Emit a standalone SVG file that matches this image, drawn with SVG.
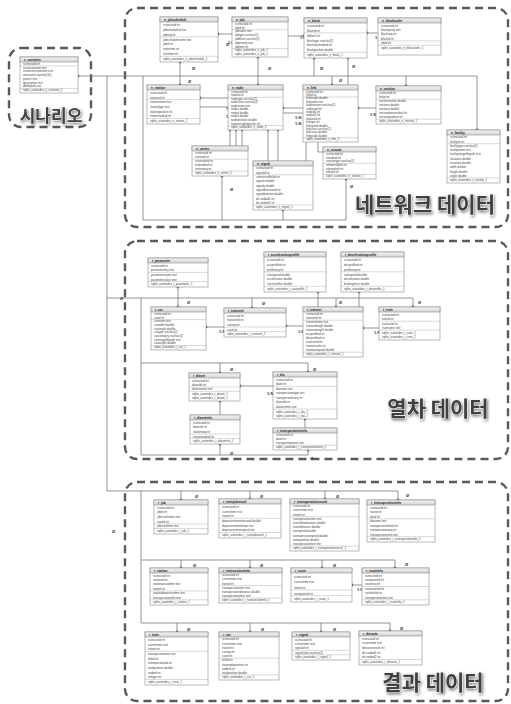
<svg xmlns="http://www.w3.org/2000/svg" width="511" height="704" viewBox="0 0 511 704">
<defs>
<linearGradient id="hg" x1="0" y1="0" x2="0" y2="1"><stop offset="0" stop-color="#f4f4f4"/><stop offset="1" stop-color="#d4d4d4"/></linearGradient>
<filter id="sh" x="-10%" y="-30%" width="120%" height="160%"><feDropShadow dx="1" dy="1.5" stdDeviation="1.6" flood-color="#000" flood-opacity="0.55"/></filter>
</defs>
<style>
.box{fill:none;stroke:#5a5a5a;stroke-width:2.4;stroke-dasharray:8 5}
.t{fill:#fff;stroke:#8a8a8a;stroke-width:0.6}
.h{fill:url(#hg);stroke:#8a8a8a;stroke-width:0.6}
.s{stroke:#a0a0a0;stroke-width:0.4}
.n{font-family:"Liberation Sans",Arial,sans-serif;font-size:3.2px;font-weight:bold;fill:#222}
.r{font-family:"Liberation Sans",Arial,sans-serif;font-size:2.9px;fill:#444}
.c path{fill:none;stroke:#7a7a7a;stroke-width:0.8}
.c circle{fill:#6a6a6a}
.m{font-family:"Liberation Sans",Arial,sans-serif;font-size:4px;font-weight:bold;fill:#333}
.big{font-family:"Noto Sans CJK KR","Noto Sans CJK SC",sans-serif;font-weight:bold;fill:#404040;stroke:#fff;stroke-width:0.6;paint-order:stroke}
</style>
<rect width="511" height="704" fill="#fff"/>
<g id="areas">
<rect class="box" x="9" y="48" width="82" height="79" rx="12"/>
<rect class="box" x="125" y="8" width="383" height="219" rx="12"/>
<rect class="box" x="125" y="241" width="383" height="218" rx="12"/>
<rect class="box" x="125" y="482" width="383" height="219" rx="12"/>
<text class="big" x="51" y="122" font-size="17" text-anchor="middle" filter="url(#sh)">시나리오</text>
<text class="big" x="425" y="212" font-size="21" text-anchor="middle" filter="url(#sh)">네트워크 데이터</text>
<text class="big" x="438" y="416" font-size="21" text-anchor="middle" filter="url(#sh)">열차 데이터</text>
<text class="big" x="433" y="690" font-size="21" text-anchor="middle" filter="url(#sh)">결과 데이터</text>
</g>
<g class="c" id="connectors">
<path d="M78,76 H477 V130"/>
<path d="M107,76 V491 H398 V500"/>
<path d="M107,298 H413 V307"/>
<path d="M143,76 V220 H346 V179"/>
<path d="M180,62 V85"/>
<path d="M258,57 V85"/>
<path d="M314,58 V76"/>
<path d="M332,76 V85"/>
<path d="M348,58 V85"/>
<path d="M406,76 V86"/>
<path d="M218,34 H232"/>
<path d="M288,36 H304"/>
<path d="M367,33 H378"/>
<path d="M200,98 H228 M200,107 H228"/>
<path d="M283,108 H303 M283,113 H303"/>
<path d="M358,108 H376"/>
<path d="M230,130 V146 M236,130 V146 M242,130 V146"/>
<path d="M268,130 V161 M278,130 V161"/>
<path d="M318,142 V152 H323 M306,142 V170 H313"/>
<path d="M222,176 V220 M283,210 V220"/>
<path d="M141,298 V455 H308 V450"/>
<path d="M220,455 V444"/>
<path d="M141,363 H308 V372 M220,363 V373"/>
<path d="M178,287 V307"/>
<path d="M252,298 V308 M336,298 V307"/>
<path d="M318,292 V307 M359,292 V307"/>
<path d="M206,327 H224 M286,326 H303 M363,328 H379"/>
<path d="M240,386 H273 M220,401 V415 M305,419 V428"/>
<path d="M181,491 V500 M250,491 V499 M325,491 V499"/>
<path d="M141,491 V623 H390 V631 M141,560 H395 V568"/>
<path d="M181,560 V568 M250,560 V568 M322,560 V568"/>
<path d="M177,623 V632 M250,623 V632 M321,623 V632"/>
<path d="M352,585 H362"/>
<circle cx="78" cy="76" r="1.4"/><circle cx="477" cy="130" r="1.4"/><circle cx="398" cy="500" r="1.4"/><circle cx="413" cy="307" r="1.4"/>
<circle cx="346" cy="179" r="1.4"/><circle cx="180" cy="62" r="1.4"/><circle cx="180" cy="85" r="1.4"/><circle cx="258" cy="57" r="1.4"/><circle cx="258" cy="85" r="1.4"/>
<circle cx="314" cy="58" r="1.4"/><circle cx="332" cy="85" r="1.4"/><circle cx="348" cy="58" r="1.4"/><circle cx="406" cy="86" r="1.4"/>
<circle cx="218" cy="34" r="1.4"/><circle cx="304" cy="36" r="1.4"/><circle cx="367" cy="33" r="1.4"/><circle cx="200" cy="98" r="1.4"/><circle cx="283" cy="108" r="1.4"/><circle cx="358" cy="108" r="1.4"/>
<circle cx="230" cy="130" r="1.2"/><circle cx="236" cy="130" r="1.2"/><circle cx="242" cy="130" r="1.2"/><circle cx="268" cy="130" r="1.2"/><circle cx="278" cy="130" r="1.2"/>
<circle cx="222" cy="176" r="1.4"/><circle cx="283" cy="210" r="1.4"/>
<circle cx="308" cy="450" r="1.4"/><circle cx="220" cy="444" r="1.4"/><circle cx="308" cy="372" r="1.4"/><circle cx="220" cy="373" r="1.4"/>
<circle cx="178" cy="287" r="1.4"/><circle cx="178" cy="307" r="1.4"/><circle cx="252" cy="308" r="1.4"/><circle cx="336" cy="307" r="1.4"/><circle cx="318" cy="292" r="1.4"/><circle cx="359" cy="292" r="1.4"/>
<circle cx="206" cy="327" r="1.4"/><circle cx="286" cy="326" r="1.4"/><circle cx="363" cy="328" r="1.4"/><circle cx="240" cy="386" r="1.4"/><circle cx="220" cy="401" r="1.4"/><circle cx="305" cy="419" r="1.4"/>
<circle cx="181" cy="500" r="1.4"/><circle cx="250" cy="499" r="1.4"/><circle cx="325" cy="499" r="1.4"/><circle cx="390" cy="631" r="1.4"/><circle cx="395" cy="568" r="1.4"/>
<circle cx="181" cy="568" r="1.4"/><circle cx="250" cy="568" r="1.4"/><circle cx="322" cy="568" r="1.4"/><circle cx="177" cy="632" r="1.4"/><circle cx="250" cy="632" r="1.4"/><circle cx="321" cy="632" r="1.4"/><circle cx="352" cy="585" r="1.4"/>
</g>
<g id="marks">
<text class="m" x="192" y="70">Ø</text><text class="m" x="188" y="83">Ø</text><text class="m" x="268" y="70">Ø</text><text class="m" x="320" y="70">Ø</text><text class="m" x="339" y="82">Ø</text><text class="m" x="352" y="68">Ø</text>
<text class="m" x="226" y="46">Ø</text><text class="m" x="120" y="300">Ø</text>
<text class="m" x="230" y="191">Ø</text><text class="m" x="299" y="191">Ø</text><text class="m" x="350" y="188">Ø</text>
<text class="m" x="187" y="304">Ø</text><text class="m" x="262" y="305">Ø</text><text class="m" x="339" y="304">Ø</text><text class="m" x="418" y="304">Ø</text>
<text class="m" x="230" y="371">Ø</text><text class="m" x="313" y="371">Ø</text><text class="m" x="230" y="455">Ø</text><text class="m" x="310" y="460">Ø</text>
<text class="m" x="195" y="498">Ø</text><text class="m" x="260" y="498">Ø</text><text class="m" x="336" y="498">Ø</text><text class="m" x="406" y="497">Ø</text>
<text class="m" x="193" y="567">Ø</text><text class="m" x="260" y="567">Ø</text><text class="m" x="333" y="567">Ø</text><text class="m" x="405" y="566">Ø</text>
<text class="m" x="187" y="631">Ø</text><text class="m" x="261" y="631">Ø</text><text class="m" x="333" y="631">Ø</text><text class="m" x="400" y="630">Ø</text>
<text class="m" x="112" y="533">Ø</text>
<text class="m" x="226" y="110" font-size="3">1:N</text><text class="m" x="226" y="118" font-size="3">1:N</text><text class="m" x="295" y="119" font-size="3">1:N</text><text class="m" x="295" y="125" font-size="3">1:N</text><text class="m" x="370" y="116" font-size="3">1:N</text>
<text class="m" x="300" y="39" font-size="3">1:N</text><text class="m" x="375" y="39" font-size="3">1:N</text><text class="m" x="228" y="44" font-size="3">1:N</text>
<text class="m" x="219" y="333" font-size="3">1:N</text><text class="m" x="298" y="333" font-size="3">1:N</text><text class="m" x="374" y="334" font-size="3">1:N</text><text class="m" x="267" y="395" font-size="3">1:N</text><text class="m" x="357" y="591" font-size="3">1:N</text>
</g>
<g id="s_scenario"><rect class="t" x="20" y="57" width="58" height="36"/><rect class="h" x="20" y="57" width="58" height="5"/><text class="n" x="24" y="60.8">s_scenario</text><line class="s" x1="20" y1="65.95" x2="78" y2="65.95"/><line class="s" x1="20" y1="88.45" x2="78" y2="88.45"/>
<text class="r" x="23" y="64.85"><tspan x="23">scenarioid int</tspan><tspan x="23" dy="3.75">scenarioname text</tspan><tspan x="23" dy="3.75">scenariocreatetime text</tspan><tspan x="23" dy="3.75">username varchar(10)</tspan><tspan x="23" dy="3.75">project text</tspan><tspan x="23" dy="3.75">description text</tspan><tspan x="23" dy="3.75">dbfilepath text</tspan><tspan x="23" dy="3.75">sqlite_autoindex_s_scenario_1</tspan></text></g>
<g id="n_jobschedule"><rect class="t" x="160" y="17" width="58" height="45"/><rect class="h" x="160" y="17" width="58" height="5"/><text class="n" x="164" y="20.8">n_jobschedule</text><line class="s" x1="160" y1="36.8" x2="218" y2="36.8"/><line class="s" x1="160" y1="56.3" x2="218" y2="56.3"/>
<text class="r" x="163" y="25.98"><tspan x="163">scenarioid int</tspan><tspan x="163" dy="4.875">jobscheduleid text</tspan><tspan x="163" dy="4.875">jobseq int</tspan><tspan x="163" dy="4.875">jobschedulename text</tspan><tspan x="163" dy="4.875">jobid int</tspan><tspan x="163" dy="4.875">ordertime int</tspan><tspan x="163" dy="4.875">starttime int</tspan><tspan x="163" dy="4.875">sqlite_autoindex_n_jobschedule_1</tspan></text></g>
<g id="n_job"><rect class="t" x="232" y="17" width="56" height="40"/><rect class="h" x="232" y="17" width="56" height="5"/><text class="n" x="236" y="20.8">n_job</text><line class="s" x1="232" y1="29.76" x2="288" y2="29.76"/><line class="s" x1="232" y1="48.6" x2="288" y2="48.6"/>
<text class="r" x="235" y="24.88"><tspan x="235">scenarioid int</tspan><tspan x="235" dy="3.78">jobid int</tspan><tspan x="235" dy="3.78">jobname text</tspan><tspan x="235" dy="3.78">jobtype varchar(2)</tspan><tspan x="235" dy="3.78">jobblock varchar(2)</tspan><tspan x="235" dy="3.78">jobpriority text</tspan><tspan x="235" dy="3.78">jobtime int</tspan><tspan x="235" dy="3.78">sqlite_autoindex_n_job_1</tspan><tspan x="235" dy="3.78">sqlite_autoindex_n_job_2</tspan></text></g>
<g id="n_block"><rect class="t" x="304" y="18" width="63" height="40"/><rect class="h" x="304" y="18" width="63" height="5"/><text class="n" x="308" y="21.8">n_block</text><line class="s" x1="304" y1="32.9" x2="367" y2="32.9"/><line class="s" x1="304" y1="52.3" x2="367" y2="52.3"/>
<text class="r" x="307" y="26.96"><tspan x="307">scenarioid int</tspan><tspan x="307" dy="4.857">blockid int</tspan><tspan x="307" dy="4.857">fsblock int</tspan><tspan x="307" dy="4.857">blocktype varchar(2)</tspan><tspan x="307" dy="4.857">blockstartnodeid int</tspan><tspan x="307" dy="4.857">blockposition double</tspan><tspan x="307" dy="4.857">sqlite_autoindex_n_block_1</tspan></text></g>
<g id="n_blockorder"><rect class="t" x="378" y="18" width="63" height="37"/><rect class="h" x="378" y="18" width="63" height="5"/><text class="n" x="382" y="21.8">n_blockorder</text><line class="s" x1="378" y1="40.9" x2="441" y2="40.9"/><line class="s" x1="378" y1="45.3" x2="441" y2="45.3"/>
<text class="r" x="381" y="26.53"><tspan x="381">scenarioid int</tspan><tspan x="381" dy="4.43">blockgroup text</tspan><tspan x="381" dy="4.43">blockseq int</tspan><tspan x="381" dy="4.43">blockid int</tspan><tspan x="381" dy="4.43">jobid int</tspan><tspan x="381" dy="4.43">sqlite_autoindex_n_blockorder_1</tspan></text></g>
<g id="n_station"><rect class="t" x="147" y="85" width="53" height="39"/><rect class="h" x="147" y="85" width="53" height="5"/><text class="n" x="151" y="88.8">n_station</text><line class="s" x1="147" y1="99.6" x2="200" y2="99.6"/><line class="s" x1="147" y1="118.5" x2="200" y2="118.5"/>
<text class="r" x="150" y="93.81"><tspan x="150">scenarioid int</tspan><tspan x="150" dy="4.71">stationid int</tspan><tspan x="150" dy="4.71">stationname text</tspan><tspan x="150" dy="4.71">stationtype text</tspan><tspan x="150" dy="4.71">stationposition int</tspan><tspan x="150" dy="4.71">stationnodeid int</tspan><tspan x="150" dy="4.71">sqlite_autoindex_n_station_1</tspan></text></g>
<g id="n_node"><rect class="t" x="228" y="85" width="55" height="45"/><rect class="h" x="228" y="85" width="55" height="5"/><text class="n" x="232" y="88.8">n_node</text><line class="s" x1="228" y1="97.3" x2="283" y2="97.3"/><line class="s" x1="228" y1="125.65" x2="283" y2="125.65"/>
<text class="r" x="231" y="92.65"><tspan x="231">scenarioid int</tspan><tspan x="231" dy="3.545">nodeid int</tspan><tspan x="231" dy="3.545">nodetype varchar(2)</tspan><tspan x="231" dy="3.545">nodeclass varchar(2)</tspan><tspan x="231" dy="3.545">nodename text</tspan><tspan x="231" dy="3.545">nodex double</tspan><tspan x="231" dy="3.545">nodey double</tspan><tspan x="231" dy="3.545">nodez double</tspan><tspan x="231" dy="3.545">nodeposition double</tspan><tspan x="231" dy="3.545">nameorrightspecific int</tspan><tspan x="231" dy="3.545">sqlite_autoindex_n_node_1</tspan></text></g>
<g id="n_link"><rect class="t" x="303" y="85" width="55" height="57"/><rect class="h" x="303" y="85" width="55" height="5"/><text class="n" x="307" y="88.8">n_link</text><line class="s" x1="303" y1="97" x2="358" y2="97"/><line class="s" x1="303" y1="137.8" x2="358" y2="137.8"/>
<text class="r" x="306" y="92.5"><tspan x="306">scenarioid int</tspan><tspan x="306" dy="3.4">linkid int</tspan><tspan x="306" dy="3.4">linklength double</tspan><tspan x="306" dy="3.4">linkname text</tspan><tspan x="306" dy="3.4">linkdirection varchar(2)</tspan><tspan x="306" dy="3.4">railbound int</tspan><tspan x="306" dy="3.4">nodeid1 int</tspan><tspan x="306" dy="3.4">nodeid2 int</tspan><tspan x="306" dy="3.4">stationid int</tspan><tspan x="306" dy="3.4">linktype int</tspan><tspan x="306" dy="3.4">linkspeed double</tspan><tspan x="306" dy="3.4">linkclass varchar(2)</tspan><tspan x="306" dy="3.4">linkcurve double</tspan><tspan x="306" dy="3.4">linkgrade double</tspan><tspan x="306" dy="3.4">sqlite_autoindex_n_link_1</tspan></text></g>
<g id="n_section"><rect class="t" x="376" y="86" width="65" height="38"/><rect class="h" x="376" y="86" width="65" height="5"/><text class="n" x="380" y="89.8">n_section</text><line class="s" x1="376" y1="99.2" x2="441" y2="99.2"/><line class="s" x1="376" y1="119.2" x2="441" y2="119.2"/>
<text class="r" x="379" y="94.1"><tspan x="379">scenarioid int</tspan><tspan x="379" dy="4">linkid int</tspan><tspan x="379" dy="4">sectionstation double</tspan><tspan x="379" dy="4">sectionx double</tspan><tspan x="379" dy="4">sectiony double</tspan><tspan x="379" dy="4">sectionpoweredrail int</tspan><tspan x="379" dy="4">sectiongradient int</tspan><tspan x="379" dy="4">sqlite_autoindex_n_section_1</tspan></text></g>
<g id="n_facility"><rect class="t" x="447" y="130" width="53" height="53"/><rect class="h" x="447" y="130" width="53" height="5"/><text class="n" x="451" y="133.8">n_facility</text><line class="s" x1="447" y1="143.7" x2="500" y2="143.7"/><line class="s" x1="447" y1="177.9" x2="500" y2="177.9"/>
<text class="r" x="450" y="138.37"><tspan x="450">scenarioid int</tspan><tspan x="450" dy="4.27">facilityid int</tspan><tspan x="450" dy="4.27">facilitytype varchar(2)</tspan><tspan x="450" dy="4.27">facilityname text</tspan><tspan x="450" dy="4.27">facilityimagefilepath text</tspan><tspan x="450" dy="4.27">locationx double</tspan><tspan x="450" dy="4.27">locationy double</tspan><tspan x="450" dy="4.27">width double</tspan><tspan x="450" dy="4.27">height double</tspan><tspan x="450" dy="4.27">angle double</tspan><tspan x="450" dy="4.27">sqlite_autoindex_n_facility_1</tspan></text></g>
<g id="n_stroute"><rect class="t" x="323" y="147" width="53" height="32"/><rect class="h" x="323" y="147" width="53" height="5"/><text class="n" x="327" y="150.8">n_stroute</text><line class="s" x1="323" y1="163.3" x2="376" y2="163.3"/><line class="s" x1="323" y1="174.5" x2="376" y2="174.5"/>
<text class="r" x="326" y="154.81"><tspan x="326">scenarioid int</tspan><tspan x="326" dy="3.71">stnodeid int</tspan><tspan x="326" dy="3.71">stroutetype varchar(2)</tspan><tspan x="326" dy="3.71">stfromnodeid int</tspan><tspan x="326" dy="3.71">sttonodeid int</tspan><tspan x="326" dy="3.71">stlinkid int</tspan><tspan x="326" dy="3.71">sqlite_autoindex_n_stroute_1</tspan></text></g>
<g id="n_vertex"><rect class="t" x="192" y="146" width="56" height="30"/><rect class="h" x="192" y="146" width="56" height="5"/><text class="n" x="196" y="149.8">n_vertex</text><line class="s" x1="192" y1="159.2" x2="248" y2="159.2"/><line class="s" x1="192" y1="171.2" x2="248" y2="171.2"/>
<text class="r" x="195" y="154.1"><tspan x="195">scenarioid int</tspan><tspan x="195" dy="4">vertexid int</tspan><tspan x="195" dy="4">startnodeid int</tspan><tspan x="195" dy="4">endnodeid int</tspan><tspan x="195" dy="4">vertexseq int</tspan><tspan x="195" dy="4">sqlite_autoindex_n_vertex_1</tspan></text></g>
<g id="n_signal"><rect class="t" x="253" y="161" width="60" height="49"/><rect class="h" x="253" y="161" width="60" height="5"/><text class="n" x="257" y="164.8">n_signal</text><line class="s" x1="253" y1="174.8" x2="313" y2="174.8"/><line class="s" x1="253" y1="204.9" x2="313" y2="204.9"/>
<text class="r" x="256" y="169.4"><tspan x="256">scenarioid int</tspan><tspan x="256" dy="4.3">signalid int</tspan><tspan x="256" dy="4.3">connectedlinkid int</tspan><tspan x="256" dy="4.3">signalx double</tspan><tspan x="256" dy="4.3">signaly double</tspan><tspan x="256" dy="4.3">signaldirectionid int</tspan><tspan x="256" dy="4.3">signalposition double</tspan><tspan x="256" dy="4.3">dn-nodeid1 int</tspan><tspan x="256" dy="4.3">dn-nodeid2 int</tspan><tspan x="256" dy="4.3">sqlite_autoindex_n_signal_1</tspan></text></g>
<g id="t_parameter"><rect class="t" x="148" y="258" width="60" height="29"/><rect class="h" x="148" y="258" width="60" height="5"/><text class="n" x="152" y="261.8">t_parameter</text><line class="s" x1="148" y1="272.4" x2="208" y2="272.4"/><line class="s" x1="148" y1="281.6" x2="208" y2="281.6"/>
<text class="r" x="151" y="266.7"><tspan x="151">scenarioid int</tspan><tspan x="151" dy="4.6">parameterkey text</tspan><tspan x="151" dy="4.6">parametername text</tspan><tspan x="151" dy="4.6">parametervalue text</tspan><tspan x="151" dy="4.6">sqlite_autoindex_t_parameter_1</tspan></text></g>
<g id="t_accelerationprofile"><rect class="t" x="264" y="252" width="62" height="40"/><rect class="h" x="264" y="252" width="62" height="5"/><text class="n" x="268" y="255.8">t_accelerationprofile</text><line class="s" x1="264" y1="271.8" x2="326" y2="271.8"/><line class="s" x1="264" y1="286.3" x2="326" y2="286.3"/>
<text class="r" x="267" y="260.96"><tspan x="267">scenarioid int</tspan><tspan x="267" dy="4.857">accprofileid int</tspan><tspan x="267" dy="4.857">profileseq int</tspan><tspan x="267" dy="4.857">trainspeed double</tspan><tspan x="267" dy="4.857">acceleration double</tspan><tspan x="267" dy="4.857">tractiveeffort double</tspan><tspan x="267" dy="4.857">sqlite_autoindex_t_accprofile_1</tspan></text></g>
<g id="t_decelerationprofile"><rect class="t" x="341" y="252" width="63" height="40"/><rect class="h" x="341" y="252" width="63" height="5"/><text class="n" x="345" y="255.8">t_decelerationprofile</text><line class="s" x1="341" y1="271.8" x2="404" y2="271.8"/><line class="s" x1="341" y1="286.3" x2="404" y2="286.3"/>
<text class="r" x="344" y="260.96"><tspan x="344">scenarioid int</tspan><tspan x="344" dy="4.857">decprofileid int</tspan><tspan x="344" dy="4.857">profileseq int</tspan><tspan x="344" dy="4.857">trainspeed double</tspan><tspan x="344" dy="4.857">deceleration double</tspan><tspan x="344" dy="4.857">brakingforce double</tspan><tspan x="344" dy="4.857">sqlite_autoindex_t_decprofile_1</tspan></text></g>
<g id="t_car"><rect class="t" x="151" y="307" width="55" height="43"/><rect class="h" x="151" y="307" width="55" height="5"/><text class="n" x="155" y="310.8">t_car</text><line class="s" x1="151" y1="319.6" x2="206" y2="319.6"/><line class="s" x1="151" y1="345.5" x2="206" y2="345.5"/>
<text class="r" x="154" y="314.8"><tspan x="154">scenarioid int</tspan><tspan x="154" dy="3.7">carid int</tspan><tspan x="154" dy="3.7">carname text</tspan><tspan x="154" dy="3.7">carwidth double</tspan><tspan x="154" dy="3.7">carlength double</tspan><tspan x="154" dy="3.7">cartype varchar(2)</tspan><tspan x="154" dy="3.7">carcategory varchar(2)</tspan><tspan x="154" dy="3.7">carimagefilepath text</tspan><tspan x="154" dy="3.7">carweight double</tspan><tspan x="154" dy="3.7">sqlite_autoindex_t_car_1</tspan></text></g>
<g id="t_trainunit"><rect class="t" x="224" y="308" width="62" height="29"/><rect class="h" x="224" y="308" width="62" height="5"/><text class="n" x="228" y="311.8">t_trainunit</text><line class="s" x1="224" y1="327" x2="286" y2="327"/><line class="s" x1="224" y1="331.6" x2="286" y2="331.6"/>
<text class="r" x="227" y="316.7"><tspan x="227">scenarioid int</tspan><tspan x="227" dy="4.6">trainunitid int</tspan><tspan x="227" dy="4.6">carseq int</tspan><tspan x="227" dy="4.6">carid int</tspan><tspan x="227" dy="4.6">sqlite_autoindex_t_trainunit_1</tspan></text></g>
<g id="t_trainset"><rect class="t" x="303" y="307" width="60" height="50"/><rect class="h" x="303" y="307" width="60" height="5"/><text class="n" x="307" y="310.8">t_trainset</text><line class="s" x1="303" y1="320.2" x2="363" y2="320.2"/><line class="s" x1="303" y1="352.2" x2="363" y2="352.2"/>
<text class="r" x="306" y="315.1"><tspan x="306">scenarioid int</tspan><tspan x="306" dy="4">trainsetid int</tspan><tspan x="306" dy="4">trainsetname text</tspan><tspan x="306" dy="4">trainsetlength double</tspan><tspan x="306" dy="4">trainsetweight double</tspan><tspan x="306" dy="4">accprofileid int</tspan><tspan x="306" dy="4">decprofileid int</tspan><tspan x="306" dy="4">trainunitid int</tspan><tspan x="306" dy="4">trainsetcolor int</tspan><tspan x="306" dy="4">maxtrainspeed double</tspan><tspan x="306" dy="4">sqlite_autoindex_t_trainset_1</tspan></text></g>
<g id="t_train"><rect class="t" x="379" y="307" width="61" height="33"/><rect class="h" x="379" y="307" width="61" height="5"/><text class="n" x="383" y="310.8">t_train</text><line class="s" x1="379" y1="321.2" x2="440" y2="321.2"/><line class="s" x1="379" y1="330.2" x2="440" y2="330.2"/>
<text class="r" x="382" y="315.6"><tspan x="382">scenarioid int</tspan><tspan x="382" dy="4.5">trainid int</tspan><tspan x="382" dy="4.5">trainsetid int</tspan><tspan x="382" dy="4.5">trainname text</tspan><tspan x="382" dy="4.5">sqlite_autoindex_t_train_1</tspan><tspan x="382" dy="4.5">sqlite_autoindex_t_train_2</tspan></text></g>
<g id="t_diaset"><rect class="t" x="189" y="373" width="51" height="28"/><rect class="h" x="189" y="373" width="51" height="5"/><text class="n" x="193" y="376.8">t_diaset</text><line class="s" x1="189" y1="387" x2="240" y2="387"/><line class="s" x1="189" y1="391.4" x2="240" y2="391.4"/>
<text class="r" x="192" y="381.5"><tspan x="192">scenarioid int</tspan><tspan x="192" dy="4.4">diasetid int</tspan><tspan x="192" dy="4.4">diasetname text</tspan><tspan x="192" dy="4.4">sqlite_autoindex_t_diaset_1</tspan><tspan x="192" dy="4.4">sqlite_autoindex_t_diaset_2</tspan></text></g>
<g id="t_dia"><rect class="t" x="273" y="372" width="64" height="47"/><rect class="h" x="273" y="372" width="64" height="5"/><text class="n" x="277" y="375.8">t_dia</text><line class="s" x1="273" y1="386.3" x2="337" y2="386.3"/><line class="s" x1="273" y1="409.1" x2="337" y2="409.1"/>
<text class="r" x="276" y="380.66"><tspan x="276">scenarioid int</tspan><tspan x="276" dy="4.556">diaid int</tspan><tspan x="276" dy="4.556">dianame text</tspan><tspan x="276" dy="4.556">trainoperationtype text</tspan><tspan x="276" dy="4.556">trainoperationseq int</tspan><tspan x="276" dy="4.556">diasetid int</tspan><tspan x="276" dy="4.556">diastarttime text</tspan><tspan x="276" dy="4.556">sqlite_autoindex_t_dia_1</tspan><tspan x="276" dy="4.556">sqlite_autoindex_t_dia_2</tspan></text></g>
<g id="t_diasetinfo"><rect class="t" x="190" y="415" width="50" height="29"/><rect class="h" x="190" y="415" width="50" height="5"/><text class="n" x="194" y="418.8">t_diasetinfo</text><line class="s" x1="190" y1="434" x2="240" y2="434"/><line class="s" x1="190" y1="438.6" x2="240" y2="438.6"/>
<text class="r" x="193" y="423.7"><tspan x="193">scenarioid int</tspan><tspan x="193" dy="4.6">diasetid int</tspan><tspan x="193" dy="4.6">stationseq int</tspan><tspan x="193" dy="4.6">stationnodeid int</tspan><tspan x="193" dy="4.6">sqlite_autoindex_t_diasetinfo_1</tspan></text></g>
<g id="t_transportationinfo"><rect class="t" x="273" y="428" width="64" height="22"/><rect class="h" x="273" y="428" width="64" height="5"/><text class="n" x="277" y="431.8">t_transportationinfo</text><line class="s" x1="273" y1="445.2" x2="337" y2="445.2"/>
<text class="r" x="276" y="436.1"><tspan x="276">scenarioid int</tspan><tspan x="276" dy="4">diaid int</tspan><tspan x="276" dy="4">transportationtext text</tspan><tspan x="276" dy="4">sqlite_autoindex_t_transportationinfo_1</tspan></text></g>
<g id="r_job"><rect class="t" x="154" y="500" width="54" height="34"/><rect class="h" x="154" y="500" width="54" height="5"/><text class="n" x="158" y="503.8">r_job</text><line class="s" x1="154" y1="523.9" x2="208" y2="523.9"/><line class="s" x1="154" y1="528.5" x2="208" y2="528.5"/>
<text class="r" x="157" y="508.77"><tspan x="157">scenarioid int</tspan><tspan x="157" dy="4.667">jobid int</tspan><tspan x="157" dy="4.667">jobresultstime text</tspan><tspan x="157" dy="4.667">trainid int</tspan><tspan x="157" dy="4.667">jobresulttime text</tspan><tspan x="157" dy="4.667">sqlite_autoindex_r_job_1</tspan></text></g>
<g id="r_trainjobresult"><rect class="t" x="219" y="499" width="62" height="39"/><rect class="h" x="219" y="499" width="62" height="5"/><text class="n" x="223" y="502.8">r_trainjobresult</text><line class="s" x1="219" y1="518.3" x2="281" y2="518.3"/><line class="s" x1="219" y1="532.5" x2="281" y2="532.5"/>
<text class="r" x="222" y="507.81"><tspan x="222">scenarioid int</tspan><tspan x="222" dy="4.714">currenttime text</tspan><tspan x="222" dy="4.714">trainid int</tspan><tspan x="222" dy="4.714">departuretimeinsecond double</tspan><tspan x="222" dy="4.714">departuretimeformat text</tspan><tspan x="222" dy="4.714">departuretimeoriginal text</tspan><tspan x="222" dy="4.714">sqlite_autoindex_r_trainjobresult_1</tspan></text></g>
<g id="r_trainoperationresult"><rect class="t" x="290" y="499" width="69" height="52"/><rect class="h" x="290" y="499" width="69" height="5"/><text class="n" x="294" y="502.8">r_trainoperationresult</text><line class="s" x1="290" y1="516.7" x2="359" y2="516.7"/><line class="s" x1="290" y1="546" x2="359" y2="546"/>
<text class="r" x="293" y="507.28"><tspan x="293">scenarioid int</tspan><tspan x="293" dy="4.18">currenttime text</tspan><tspan x="293" dy="4.18">trainid int</tspan><tspan x="293" dy="4.18">trainoperationtime text</tspan><tspan x="293" dy="4.18">traveltimeduration double</tspan><tspan x="293" dy="4.18">traveldistance double</tspan><tspan x="293" dy="4.18">trainspeed double</tspan><tspan x="293" dy="4.18">trainoperationspeed double</tspan><tspan x="293" dy="4.18">nodeposition double</tspan><tspan x="293" dy="4.18">trainoperationtext text</tspan><tspan x="293" dy="4.18">sqlite_autoindex_r_trainoperationresult_1</tspan></text></g>
<g id="r_trainoperationinfo"><rect class="t" x="367" y="500" width="68" height="42"/><rect class="h" x="367" y="500" width="68" height="5"/><text class="n" x="371" y="503.8">r_trainoperationinfo</text><line class="s" x1="367" y1="518.7" x2="435" y2="518.7"/><line class="s" x1="367" y1="536.7" x2="435" y2="536.7"/>
<text class="r" x="370" y="508.6"><tspan x="370">scenarioid int</tspan><tspan x="370" dy="4.5">trainid int</tspan><tspan x="370" dy="4.5">diaid int</tspan><tspan x="370" dy="4.5">dianame text</tspan><tspan x="370" dy="4.5">trainoperationlinkid int</tspan><tspan x="370" dy="4.5">trainoperationseq int</tspan><tspan x="370" dy="4.5">trainoperationinfo text</tspan><tspan x="370" dy="4.5">sqlite_autoindex_r_trainoperationinfo_1</tspan></text></g>
<g id="r_station"><rect class="t" x="150" y="568" width="58" height="37"/><rect class="h" x="150" y="568" width="58" height="5"/><text class="n" x="154" y="571.8">r_station</text><line class="s" x1="150" y1="590.9" x2="208" y2="590.9"/><line class="s" x1="150" y1="599.8" x2="208" y2="599.8"/>
<text class="r" x="153" y="576.53"><tspan x="153">scenarioid int</tspan><tspan x="153" dy="4.43">stationid int</tspan><tspan x="153" dy="4.43">stationarrivaltime text</tspan><tspan x="153" dy="4.43">trainid int</tspan><tspan x="153" dy="4.43">stationdeparturetime text</tspan><tspan x="153" dy="4.43">trainoperationinfo text</tspan><tspan x="153" dy="4.43">sqlite_autoindex_r_station_1</tspan></text></g>
<g id="r_trainsectioninfo"><rect class="t" x="219" y="568" width="63" height="35"/><rect class="h" x="219" y="568" width="63" height="5"/><text class="n" x="223" y="571.8">r_trainsectioninfo</text><line class="s" x1="219" y1="585.6" x2="282" y2="585.6"/><line class="s" x1="219" y1="598" x2="282" y2="598"/>
<text class="r" x="222" y="576.24"><tspan x="222">scenarioid int</tspan><tspan x="222" dy="4.14">currenttime text</tspan><tspan x="222" dy="4.14">trainid int</tspan><tspan x="222" dy="4.14">trainoperationtext text</tspan><tspan x="222" dy="4.14">trainoperationdistance double</tspan><tspan x="222" dy="4.14">trainoperationtime text</tspan><tspan x="222" dy="4.14">sqlite_autoindex_r_trainsectioninfo_1</tspan></text></g>
<g id="r_route"><rect class="t" x="291" y="568" width="61" height="34"/><rect class="h" x="291" y="568" width="61" height="5"/><text class="n" x="295" y="571.8">r_route</text><line class="s" x1="291" y1="590" x2="352" y2="590"/><line class="s" x1="291" y1="595.6" x2="352" y2="595.6"/>
<text class="r" x="294" y="577.7"><tspan x="294">scenarioid int</tspan><tspan x="294" dy="5.6">currenttime text</tspan><tspan x="294" dy="5.6">trainid int</tspan><tspan x="294" dy="5.6">routepointid int</tspan><tspan x="294" dy="5.6">sqlite_autoindex_r_route_1</tspan></text></g>
<g id="r_routeinfo"><rect class="t" x="362" y="568" width="67" height="37"/><rect class="h" x="362" y="568" width="67" height="5"/><text class="n" x="366" y="571.8">r_routeinfo</text><line class="s" x1="362" y1="586.5" x2="429" y2="586.5"/><line class="s" x1="362" y1="599.8" x2="429" y2="599.8"/>
<text class="r" x="365" y="576.53"><tspan x="365">scenarioid int</tspan><tspan x="365" dy="4.43">routepointid int</tspan><tspan x="365" dy="4.43">routeseq int</tspan><tspan x="365" dy="4.43">routenodeid int</tspan><tspan x="365" dy="4.43">routelinkid int</tspan><tspan x="365" dy="4.43">trainoperationtext text</tspan><tspan x="365" dy="4.43">sqlite_autoindex_r_routeinfo_1</tspan></text></g>
<g id="r_train"><rect class="t" x="145" y="632" width="63" height="53"/><rect class="h" x="145" y="632" width="63" height="5"/><text class="n" x="149" y="635.8">r_train</text><line class="s" x1="145" y1="651.3" x2="208" y2="651.3"/><line class="s" x1="145" y1="679.5" x2="208" y2="679.5"/>
<text class="r" x="148" y="640.8"><tspan x="148">scenarioid int</tspan><tspan x="148" dy="4.7">currenttime text</tspan><tspan x="148" dy="4.7">trainid int</tspan><tspan x="148" dy="4.7">trainoperationtext text</tspan><tspan x="148" dy="4.7">linkid int</tspan><tspan x="148" dy="4.7">trainoperationid int</tspan><tspan x="148" dy="4.7">totalposition double</tspan><tspan x="148" dy="4.7">nodeid int</tspan><tspan x="148" dy="4.7">railtype int</tspan><tspan x="148" dy="4.7">sqlite_autoindex_r_train_1</tspan></text></g>
<g id="r_car"><rect class="t" x="219" y="632" width="60" height="48"/><rect class="h" x="219" y="632" width="60" height="5"/><text class="n" x="223" y="635.8">r_car</text><line class="s" x1="219" y1="658.2" x2="279" y2="658.2"/><line class="s" x1="219" y1="675" x2="279" y2="675"/>
<text class="r" x="222" y="640.3"><tspan x="222">scenarioid int</tspan><tspan x="222" dy="4.2">currenttime text</tspan><tspan x="222" dy="4.2">trainid int</tspan><tspan x="222" dy="4.2">carseq int</tspan><tspan x="222" dy="4.2">carid int</tspan><tspan x="222" dy="4.2">linkid int</tspan><tspan x="222" dy="4.2">startnodeposition int</tspan><tspan x="222" dy="4.2">nodeid int</tspan><tspan x="222" dy="4.2">totalposition double</tspan><tspan x="222" dy="4.2">sqlite_autoindex_r_car_1</tspan></text></g>
<g id="r_signal"><rect class="t" x="292" y="632" width="58" height="28"/><rect class="h" x="292" y="632" width="58" height="5"/><text class="n" x="296" y="635.8">r_signal</text><line class="s" x1="292" y1="650.4" x2="350" y2="650.4"/><line class="s" x1="292" y1="654.8" x2="350" y2="654.8"/>
<text class="r" x="295" y="640.5"><tspan x="295">scenarioid int</tspan><tspan x="295" dy="4.4">currenttime text</tspan><tspan x="295" dy="4.4">signalid int</tspan><tspan x="295" dy="4.4">signalcolor varchar(2)</tspan><tspan x="295" dy="4.4">sqlite_autoindex_r_signal_1</tspan></text></g>
<g id="r_dnroute"><rect class="t" x="359" y="631" width="63" height="34"/><rect class="h" x="359" y="631" width="63" height="5"/><text class="n" x="363" y="634.8">r_dnroute</text><line class="s" x1="359" y1="659.5" x2="422" y2="659.5"/>
<text class="r" x="362" y="639.77"><tspan x="362">scenarioid int</tspan><tspan x="362" dy="4.667">currenttime text</tspan><tspan x="362" dy="4.667">dntrainonroute int</tspan><tspan x="362" dy="4.667">dn-nodeid1 int</tspan><tspan x="362" dy="4.667">dn-nodeid2 int</tspan><tspan x="362" dy="4.667">sqlite_autoindex_r_dnroute_1</tspan></text></g>
</svg>
